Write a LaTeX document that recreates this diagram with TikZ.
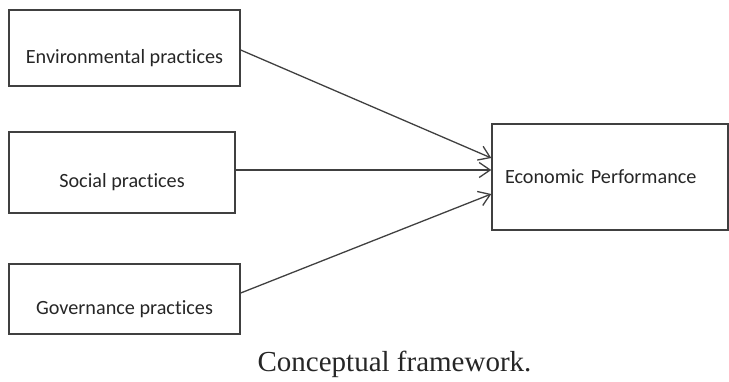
\documentclass[tikz,border=0pt]{standalone}
\usepackage{fontspec}
\setmainfont{Liberation Serif}
\newfontfamily\boxfont[Ligatures=NoCommon]{Carlito}
\usetikzlibrary{arrows.meta}
\begin{document}
\begin{tikzpicture}[x=1pt,y=-1pt,
  box/.style={draw=linegray,line width=1.4pt,inner sep=0pt,text=textgray,
    font=\boxfont\fontsize{20.2}{23}\selectfont},
  lowtext/.style={text height=30pt,text depth=0pt},
  link/.style={draw=linegray,line width=1.3pt,
    -{Straight Barb[length=11pt,width=15pt,line width=1.3pt]}}]
\definecolor{linegray}{rgb}{0.25,0.25,0.25}
\definecolor{textgray}{rgb}{0.15,0.15,0.15}
\useasboundingbox (0,0) rectangle (729,381);
\node[box,lowtext,minimum width=231pt,minimum height=76pt] (env) at (124.5,48) {Environmental practices};
\node[box,lowtext,minimum width=226pt,minimum height=81pt] (soc) at (122,172.5) {Social practices};
\node[box,lowtext,minimum width=231pt,minimum height=70pt] (gov) at (124.5,299) {Governance practices};
\node[box,minimum width=236pt,minimum height=106pt,text width=210pt,align=left] (eco) at (610,177) {Economic Performance};
\draw[link] ([yshift=-2pt]env.east) -- ([yshift=19pt]eco.west);
\draw[link] ([yshift=2.5pt]soc.east) -- ([yshift=7pt]eco.west);
\draw[link] ([yshift=6pt]gov.east) -- ([yshift=-17pt]eco.west);
\node[font=\fontsize{29}{32}\selectfont,text=textgray,anchor=base] (caption) at (394.5,371) {Conceptual framework.};
\end{tikzpicture}
\end{document}
